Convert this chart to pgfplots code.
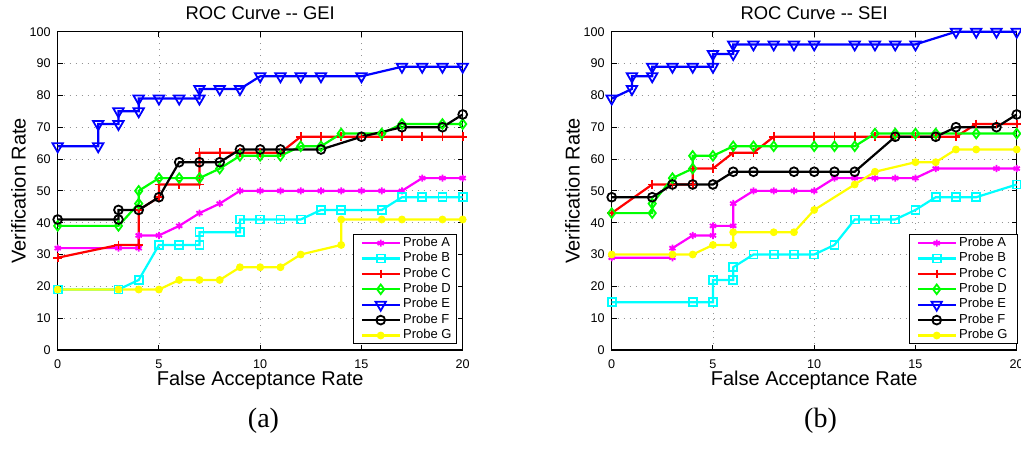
\documentclass[border=0pt]{standalone}
\usepackage{fontspec}
\setmainfont{Liberation Sans}
\newfontfamily\capfont{Liberation Serif}
\usepackage{pgfplots}
\pgfplotsset{compat=1.18}
\definecolor{mA}{rgb}{1,0,1}
\definecolor{mB}{rgb}{0,1,1}
\definecolor{mC}{rgb}{1,0,0}
\definecolor{mD}{rgb}{0,1,0}
\definecolor{mE}{rgb}{0,0,1}
\definecolor{mF}{rgb}{0,0,0}
\definecolor{mG}{rgb}{1,1,0}
\pgfplotsset{
  pA/.style={color=mA, line width=1.1pt, mark=asterisk, mark size=1.8pt, mark options={solid, line width=0.9pt}},
  pB/.style={color=mB, line width=1.1pt, mark=square, mark size=2pt, mark options={solid, line width=0.9pt}},
  pC/.style={color=mC, line width=1.1pt, mark=+, mark size=2.2pt, mark options={solid, line width=0.9pt}},
  pD/.style={color=mD, line width=1.1pt, mark=diamond, mark size=2.4pt, mark options={solid, line width=0.9pt}},
  pE/.style={color=mE, line width=1.1pt, mark=triangle, mark size=3pt, mark options={solid, line width=0.9pt, rotate=180}},
  pF/.style={color=mF, line width=1.1pt, mark=o, mark size=2.2pt, mark options={solid, line width=0.9pt}},
  pG/.style={color=mG, line width=1.1pt, mark=*, mark size=1.7pt, mark options={solid, line width=0.5pt}},
  rocaxis/.style={
    scale only axis, width=202.5pt, height=159.15pt,
    xmin=0, xmax=20, ymin=0, ymax=100,
    xtick={0,5,...,20}, ytick={0,10,...,100},
    grid=major,
    grid style={gray!85, line width=0.4pt, dash pattern=on 0.6pt off 2.4pt},
    axis line style={line width=0.6pt},
    major tick length=2.5pt,
    tick style={black, line width=0.5pt},
    tick label style={font=\fontsize{6.3}{7}\selectfont},
    /pgf/number format/assume math mode=true,
    xticklabel style={yshift=-1.3pt},
    every axis title shift=0pt,
    xlabel style={at={(axis description cs:0.5,-0.1115)}, anchor=base, font=\fontsize{10}{12}\selectfont},
    ylabel style={at={(axis description cs:-0.0968,0.5)}, anchor=center, font=\fontsize{10}{12}\selectfont},
    title style={at={(axis description cs:0.5,1.0368)}, anchor=base, font=\fontsize{9.2}{11}\selectfont},
    xlabel={False Acceptance Rate}, ylabel={Verification Rate},
    clip=false,
    legend cell align=left,
    legend image code/.code={\path (0pt,0pt); \draw[mark repeat=2,mark phase=2,##1,line width=1.1pt] plot coordinates {(2.6pt,0pt) (12pt,0pt) (21.4pt,0pt)};},
    legend style={at={(1,0)}, anchor=south east, yshift=2.85pt, draw=black, line width=0.5pt, fill=white,
      inner xsep=1pt, inner ysep=1pt, font=\fontsize{6.5}{7.5}\selectfont,
      nodes={inner xsep=1.3pt, inner ysep=0pt, text height=4.7pt, text depth=1.6pt},
      row sep=1.4pt, cells={anchor=west}},
  }
}
\begin{document}
\begin{tikzpicture}
\useasboundingbox (0pt,0pt) rectangle (510.5pt,228pt);
% ---------------- (a) GEI ----------------
\begin{axis}[rocaxis, at={(28.85pt,53pt)}, anchor=south west,
  title={ROC Curve -{}- GEI}, legend style={xshift=-3pt}]
\addplot[pA] coordinates {(0,32)(3,32)(4,32)(4,36)(5,36)(6,39)(7,43)(8,46)(9,50)(10,50)(11,50)(12,50)(13,50)(14,50)(15,50)(16,50)(17,50)(18,54)(19,54)(20,54)};
\addplot[pB] coordinates {(0,19)(3,19)(4,22)(5,33)(6,33)(7,33)(7,37)(9,37)(9,41)(10,41)(11,41)(12,41)(13,44)(14,44)(16,44)(17,48)(18,48)(19,48)(20,48)};
\addplot[pC] coordinates {(0,29)(3,33)(4,33)(4,44)(5,48)(5,52)(6,52)(7,52)(7,62)(8,62)(9,62)(10,62)(11,62)(12,67)(13,67)(14,67)(15,67)(16,67)(17,67)(18,67)(19,67)(20,67)};
\addplot[pD] coordinates {(0,39)(3,39)(4,46)(4,50)(5,54)(6,54)(7,54)(8,57)(9,61)(10,61)(11,61)(12,64)(13,64)(14,68)(16,68)(17,71)(19,71)(20,71)};
\addplot[pE] coordinates {(0,64)(2,64)(2,71)(3,71)(3,75)(4,75)(4,79)(5,79)(6,79)(7,79)(7,82)(8,82)(9,82)(10,86)(11,86)(12,86)(13,86)(15,86)(17,89)(18,89)(19,89)(20,89)};
\addplot[pF] coordinates {(0,41)(3,41)(3,44)(4,44)(5,48)(6,59)(7,59)(8,59)(9,63)(10,63)(11,63)(13,63)(15,67)(17,70)(19,70)(20,74)};
\addplot[pG] coordinates {(0,19)(3,19)(4,19)(5,19)(6,22)(7,22)(8,22)(9,26)(10,26)(11,26)(12,30)(14,33)(14,41)(16,41)(17,41)(19,41)(20,41)};
\legend{\makebox[24.2pt][l]{Probe A},\makebox[24.2pt][l]{Probe B},\makebox[24.2pt][l]{Probe C},\makebox[24.2pt][l]{Probe D},\makebox[24.2pt][l]{Probe E},\makebox[24.2pt][l]{Probe F},\makebox[24.2pt][l]{Probe G}}
\end{axis}
% ---------------- (b) SEI ----------------
\begin{axis}[rocaxis, at={(305.85pt,53pt)}, anchor=south west,
  title={ROC Curve -{}- SEI}, legend style={xshift=0.8pt}]
\addplot[pA] coordinates {(0,29)(3,29)(3,32)(4,36)(5,36)(5,39)(6,39)(6,46)(7,50)(8,50)(9,50)(10,50)(11,54)(12,54)(13,54)(14,54)(15,54)(16,57)(19,57)(20,57)};
\addplot[pB] coordinates {(0,15)(4,15)(5,15)(5,22)(6,22)(6,26)(7,30)(8,30)(9,30)(10,30)(11,33)(12,41)(13,41)(14,41)(15,44)(16,48)(17,48)(18,48)(20,52)};
\addplot[pC] coordinates {(0,43)(2,52)(3,52)(4,52)(4,57)(5,57)(6,62)(7,62)(8,67)(10,67)(11,67)(12,67)(13,67)(14,67)(15,67)(16,67)(17,67)(18,71)(19,71)(20,71)};
\addplot[pD] coordinates {(0,43)(2,43)(2,46)(3,54)(4,57)(4,61)(5,61)(6,64)(7,64)(8,64)(10,64)(11,64)(12,64)(13,68)(14,68)(15,68)(16,68)(18,68)(20,68)};
\addplot[pE] coordinates {(0,79)(1,82)(1,86)(2,86)(2,89)(3,89)(4,89)(5,89)(5,93)(6,93)(6,96)(7,96)(8,96)(9,96)(10,96)(12,96)(13,96)(14,96)(15,96)(17,100)(18,100)(19,100)(20,100)};
\addplot[pF] coordinates {(0,48)(2,48)(3,52)(4,52)(5,52)(6,56)(7,56)(9,56)(10,56)(11,56)(12,56)(14,67)(16,67)(17,70)(19,70)(20,74)};
\addplot[pG] coordinates {(0,30)(3,30)(4,30)(5,33)(6,33)(6,37)(8,37)(9,37)(10,44)(12,52)(13,56)(15,59)(16,59)(17,63)(18,63)(20,63)};
\legend{\makebox[27pt][l]{Probe A},\makebox[27pt][l]{Probe B},\makebox[27pt][l]{Probe C},\makebox[27pt][l]{Probe D},\makebox[27pt][l]{Probe E},\makebox[27pt][l]{Probe F},\makebox[27pt][l]{Probe G}}
\end{axis}
\node[anchor=base, font=\capfont\fontsize{14}{16}\selectfont] at (131.75pt,14.5pt) {(a)};
\node[anchor=base, font=\capfont\fontsize{14}{16}\selectfont] at (410.25pt,14.5pt) {(b)};
\end{tikzpicture}
\end{document}
